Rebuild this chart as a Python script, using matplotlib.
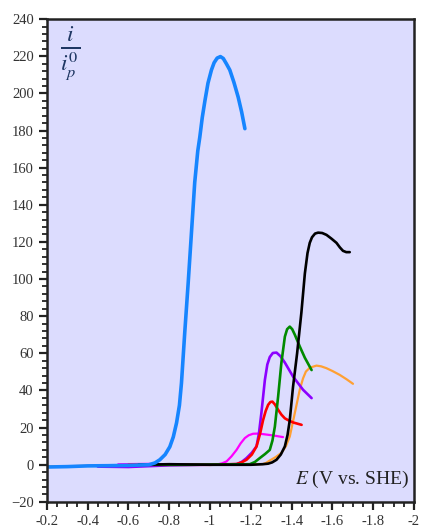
import matplotlib
matplotlib.use("Agg")
import matplotlib.pyplot as plt
from matplotlib.ticker import MultipleLocator, FuncFormatter

# -------------------------------------------------------------
# Curve data (E in V vs. SHE, normalised current i / i_p^0)
# -------------------------------------------------------------
blue_E = [-0.20, -0.30, -0.40, -0.50, -0.60, -0.70, -0.730, -0.754, -0.780,
          -0.803, -0.820, -0.836, -0.850, -0.860, -0.876, -0.893, -0.909,
          -0.925, -0.940, -0.950, -0.962, -0.975, -0.990, -1.007, -1.020,
          -1.035, -1.051, -1.065, -1.080, -1.097, -1.117, -1.138, -1.155,
          -1.171]
blue_i = [-1.2, -1.0, -0.6, -0.5, -0.3, 0.0, 1.0, 2.7, 5.5,
          9.7, 15.0, 22.6, 32.0, 44.0, 71.0, 98.0, 125.0,
          152.0, 169.0, 176.5, 187.0, 196.0, 205.5, 212.6, 216.5,
          219.0, 219.8, 218.8, 216.0, 212.6, 206.0, 198.0, 190.0,
          181.0]

black_E = [-0.65, -0.80, -1.00, -1.20, -1.259, -1.285, -1.305, -1.326, -1.347,
           -1.367, -1.380, -1.391, -1.407, -1.427, -1.448, -1.465, -1.478,
           -1.489, -1.500, -1.515, -1.530, -1.550, -1.571, -1.595, -1.620,
           -1.637, -1.652, -1.668, -1.685]
black_i = [0.0, 0.3, 0.0, 0.0, 0.3, 0.6, 1.3, 2.7, 5.5,
           9.9, 16.0, 24.0, 42.0, 60.0, 82.0, 103.0, 114.0,
           119.5, 122.5, 124.5, 125.0, 124.8, 123.8, 121.8, 119.5,
           117.0, 115.2, 114.5, 114.5]

green_E = [-0.65, -0.90, -1.195, -1.220, -1.244, -1.270, -1.293, -1.306, -1.318,
           -1.334, -1.350, -1.367, -1.378, -1.391, -1.403, -1.416, -1.440,
           -1.465, -1.498]
green_i = [0.0, 0.0, 0.3, 1.5, 3.6, 5.8, 8.0, 13.0, 20.6,
           36.8, 55.0, 69.0, 73.0, 74.4, 73.0, 70.0, 63.7,
           57.6, 51.0]

purple_E = [-0.45, -0.60, -0.80, -1.130, -1.155, -1.179, -1.205, -1.228, -1.240,
            -1.252, -1.269, -1.281, -1.293, -1.308, -1.326, -1.345, -1.367,
            -1.407, -1.456, -1.498]
purple_i = [-1.0, -1.2, -0.3, 0.3, 1.5, 3.6, 6.5, 9.9, 17.0,
            28.0, 45.7, 54.0, 58.0, 60.2, 60.4, 58.5, 55.0,
            47.5, 40.4, 35.9]

red_E = [-0.60, -0.80, -1.00, -1.130, -1.155, -1.179, -1.205, -1.228, -1.245,
         -1.260, -1.273, -1.285, -1.296, -1.306, -1.318, -1.334, -1.350,
         -1.367, -1.387, -1.407, -1.449]
red_i = [0.0, 0.0, 0.0, 0.4, 1.3, 2.7, 5.5, 9.9, 16.5,
         24.0, 29.0, 32.3, 33.8, 34.0, 32.5, 29.6, 27.0,
         25.0, 23.8, 22.8, 21.5]

magenta_E = [-0.55, -0.70, -0.90, -1.040, -1.060, -1.081, -1.105, -1.130,
             -1.150, -1.171, -1.190, -1.211, -1.235, -1.260, -1.309, -1.358]
magenta_i = [0.3, 0.5, 0.0, 0.3, 0.8, 1.8, 4.5, 8.0,
             11.5, 14.4, 15.9, 16.7, 16.8, 16.5, 15.8, 14.9]

orange_E = [-0.20, -0.30, -0.50, -0.80, -1.00, -1.259, -1.275, -1.293, -1.320,
            -1.350, -1.372, -1.391, -1.416, -1.440, -1.456, -1.470, -1.490,
            -1.522, -1.545, -1.571, -1.600, -1.636, -1.670, -1.701]
orange_i = [-0.8, -0.8, -0.3, 0.3, 0.0, 0.4, 1.0, 2.3, 4.0,
            6.4, 10.0, 15.2, 28.0, 40.4, 46.5, 50.2, 52.3,
            53.4, 53.0, 52.0, 50.5, 48.4, 46.0, 43.6]

curves = [
    (orange_E, orange_i, "#FFA033", 1.6),
    (magenta_E, magenta_i, "#FF00FF", 1.6),
    (purple_E, purple_i, "#8C00FF", 1.9),
    (red_E, red_i, "#FF0000", 1.9),
    (green_E, green_i, "#008A00", 1.9),
    (black_E, black_i, "#000000", 1.9),
    (blue_E, blue_i, "#1685FF", 2.6),
]

# -------------------------------------------------------------
# Figure
# -------------------------------------------------------------
plt.rcParams["font.family"] = ["Liberation Serif", "DejaVu Serif"]
plt.rcParams["mathtext.fontset"] = "stix"

fig = plt.figure(figsize=(4.22, 5.30), dpi=100)
ax = fig.add_axes([0.111, 0.053, 0.870, 0.911])
ax.set_facecolor("#DCDCFE")

for E, i, color, lw in curves:
    ax.plot(E, i, color=color, linewidth=lw,
            solid_capstyle="round", solid_joinstyle="round")

ax.set_xlim(-0.2, -2.0)
ax.set_ylim(-20, 240)

ax.xaxis.set_major_locator(MultipleLocator(0.2))
ax.xaxis.set_minor_locator(MultipleLocator(0.05))
ax.yaxis.set_major_locator(MultipleLocator(20))
ax.yaxis.set_minor_locator(MultipleLocator(4))
ax.xaxis.set_major_formatter(FuncFormatter(lambda v, p: f"{v:g}"))

ax.tick_params(which="major", length=6, width=1.6, color="#222222",
               labelsize=10.5, labelcolor="#333333")
ax.tick_params(which="minor", length=3.5, width=1.3, color="#222222")
ax.tick_params(axis="x", which="both", top=False)
ax.tick_params(axis="y", which="both", right=False)

for s in ax.spines.values():
    s.set_linewidth(1.8)
    s.set_color("#222222")

# axis annotations
ax.text(0.035, 0.93, r"$\frac{i}{i_p^0}$", transform=ax.transAxes,
        fontsize=24, color="#1F3763", ha="left", va="center")
ax.text(0.985, 0.025, r"$E$ (V vs. SHE)", transform=ax.transAxes,
        fontsize=14, color="#222222", ha="right", va="bottom")

fig.savefig("out.png", dpi=100)
